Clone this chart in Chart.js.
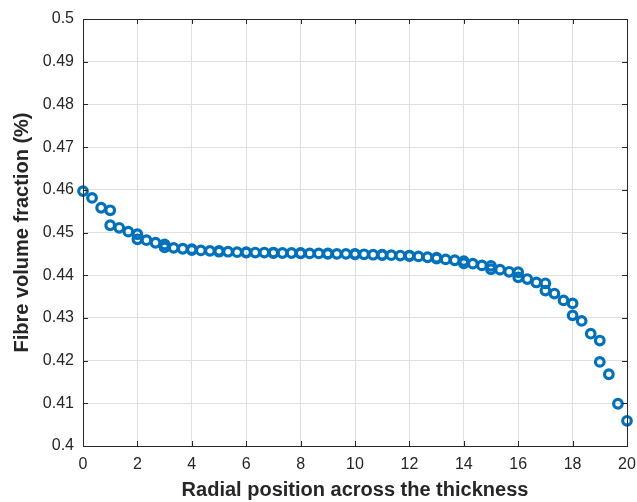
<!DOCTYPE html>
<html>
<head>
<meta charset="utf-8">
<script src="https://cdn.jsdelivr.net/npm/chart.js@4/dist/chart.umd.min.js"></script>
<style>
  html, body { margin: 0; padding: 0; background: #fff; }
  #wrap { width: 637px; height: 502px; }
</style>
</head>
<body>
<div id="wrap"><canvas id="fvfChart" width="637" height="502"></canvas></div>
<script>
// radial position (element boundaries appear twice)
const radialPos = [
  0, 0.333, 0.667, 1,
  1, 1.333, 1.667, 2,
  2, 2.333, 2.667, 3,
  3, 3.333, 3.667, 4,
  4, 4.333, 4.667, 5,
  5, 5.333, 5.667, 6,
  6, 6.333, 6.667, 7,
  7, 7.333, 7.667, 8,
  8, 8.333, 8.667, 9,
  9, 9.333, 9.667, 10,
  10, 10.333, 10.667, 11,
  11, 11.333, 11.667, 12,
  12, 12.333, 12.667, 13,
  13, 13.333, 13.667, 14,
  14, 14.333, 14.667, 15,
  15, 15.333, 15.667, 16,
  16, 16.333, 16.667, 17,
  17, 17.333, 17.667, 18,
  18, 18.333, 18.667, 19,
  19, 19.333, 19.667, 20
];

// fibre volume fraction at each position
const fibreFraction = [
  0.4597, 0.4581, 0.4558, 0.4552,
  0.4517, 0.4511, 0.4502, 0.4496,
  0.4484, 0.4482, 0.4476, 0.4472,
  0.4465, 0.4464, 0.4462, 0.4461,
  0.4459, 0.4458, 0.4457, 0.4457,
  0.4455, 0.4455, 0.4454, 0.4454,
  0.4453, 0.4453, 0.4453, 0.4453,
  0.4452, 0.4452, 0.4452, 0.4452,
  0.4451, 0.4451, 0.4451, 0.4451,
  0.4450, 0.4450, 0.4450, 0.4450,
  0.4449, 0.4449, 0.4448, 0.4448,
  0.4447, 0.4447, 0.4446, 0.4446,
  0.4445, 0.4444, 0.4442, 0.4441,
  0.4439, 0.4437, 0.4435, 0.4433,
  0.4428, 0.4427, 0.4423, 0.4422,
  0.4414, 0.4413, 0.4408, 0.4407,
  0.4395, 0.4391, 0.4383, 0.4381,
  0.4364, 0.4357, 0.4341, 0.4334,
  0.4306, 0.4293, 0.4263, 0.4247,
  0.4197, 0.4168, 0.4099, 0.4059
];

const xTicks = [0, 2, 4, 6, 8, 10, 12, 14, 16, 18, 20];
const yTicks = [0.4, 0.41, 0.42, 0.43, 0.44, 0.45, 0.46, 0.47, 0.48, 0.49, 0.5];

const axisColor = '#262626';
const gridColor = '#dfdfdf';
const fontFamily = '"Liberation Sans", Arial, sans-serif';

// box round the plot with inward ticks on all four sides
const boxPlugin = {
  id: 'boxPlugin',
  afterDatasetsDraw(chart) {
    const { ctx, chartArea: a, scales: { x, y } } = chart;
    const len = 5;
    ctx.save();
    ctx.strokeStyle = axisColor;
    ctx.lineWidth = 1;
    ctx.beginPath();
    xTicks.forEach(v => {
      const px = Math.round(x.getPixelForValue(v)) + 0.5;
      ctx.moveTo(px, a.bottom); ctx.lineTo(px, a.bottom - len);
      ctx.moveTo(px, a.top); ctx.lineTo(px, a.top + len);
    });
    yTicks.forEach(v => {
      const py = Math.round(y.getPixelForValue(v)) + 0.5;
      ctx.moveTo(a.left, py); ctx.lineTo(a.left + len, py);
      ctx.moveTo(a.right, py); ctx.lineTo(a.right - len, py);
    });
    ctx.stroke();
    ctx.strokeRect(Math.round(a.left) + 0.5, Math.round(a.top) + 0.5,
      Math.round(a.right - a.left), Math.round(a.bottom - a.top));
    ctx.restore();
  }
};

const ctx = document.getElementById('fvfChart').getContext('2d');

new Chart(ctx, {
  type: 'scatter',
  data: {
    datasets: [{
      data: radialPos.map((r, i) => ({ x: r, y: fibreFraction[i] })),
      borderColor: '#0072BD',
      backgroundColor: 'rgba(0,0,0,0)',
      pointRadius: 4.3,
      pointBorderWidth: 3.2,
      pointHoverRadius: 4.3,
      clip: false
    }]
  },
  options: {
    responsive: false,
    animation: false,
    layout: { padding: { top: 19, right: 10, left: 0, bottom: 0 } },
    plugins: { legend: { display: false }, tooltip: { enabled: false } },
    scales: {
      x: {
        type: 'linear',
        min: 0,
        max: 20,
        afterBuildTicks: s => { s.ticks = xTicks.map(v => ({ value: v })); },
        afterFit: s => { s.height = 56; s.paddingLeft = 0; s.paddingRight = 0; },
        grid: { color: gridColor, drawTicks: false },
        border: { display: false },
        ticks: {
          color: axisColor,
          padding: 9,
          maxRotation: 0,
          font: { family: fontFamily, size: 16 }
        },
        title: {
          display: true,
          text: 'Radial position across the thickness',
          color: axisColor,
          padding: { top: 0, bottom: 2 },
          font: { family: fontFamily, size: 20, weight: 'bold', lineHeight: 1 }
        }
      },
      y: {
        type: 'linear',
        min: 0.4,
        max: 0.5,
        afterBuildTicks: s => { s.ticks = yTicks.map(v => ({ value: v })); },
        afterFit: s => { s.width = 83; },
        grid: { color: gridColor, drawTicks: false },
        border: { display: false },
        ticks: {
          color: axisColor,
          padding: 9,
          font: { family: fontFamily, size: 16 },
          callback: v => String(+v.toFixed(2))
        },
        title: {
          display: true,
          text: 'Fibre volume fraction (%)',
          color: axisColor,
          padding: { top: 12, bottom: 0 },
          font: { family: fontFamily, size: 20, weight: 'bold', lineHeight: 1 }
        }
      }
    }
  },
  plugins: [boxPlugin]
});
</script>
</body>
</html>
